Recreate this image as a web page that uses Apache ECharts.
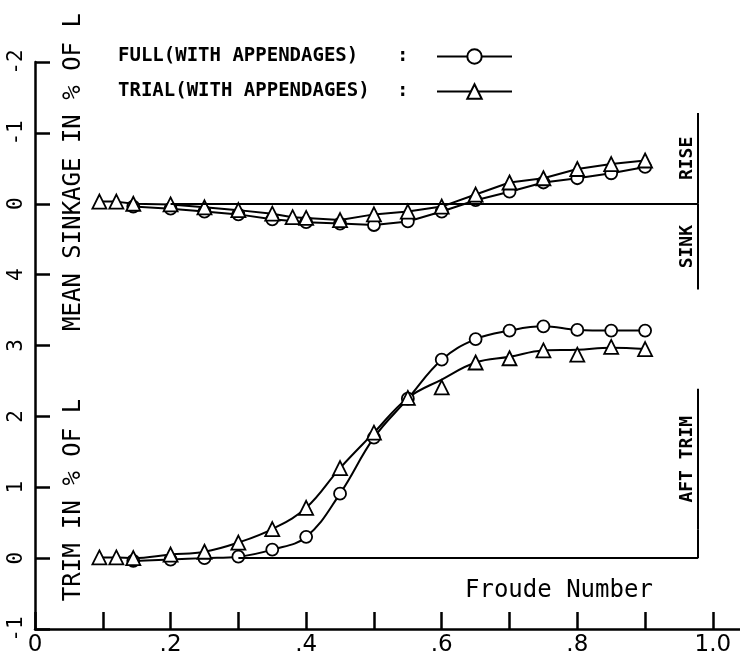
<!DOCTYPE html>
<html>
<head>
<meta charset="utf-8">
<script src="https://cdn.jsdelivr.net/npm/echarts@6/dist/echarts.min.js"></script>
<style>
  html, body { margin: 0; padding: 0; background: #fff; }
  #box { width: 740px; height: 657px; }
</style>
</head>
<body>
<div id="box"></div>
<script>
// Froude number of each run
var fnSinkFull  = [0.145, 0.2, 0.25, 0.3, 0.35, 0.4, 0.45, 0.5, 0.55, 0.6, 0.65, 0.7, 0.75, 0.8, 0.85, 0.9];
var fnSinkTrial = [0.095, 0.12, 0.145, 0.2, 0.25, 0.3, 0.35, 0.38, 0.4, 0.45, 0.5, 0.55, 0.6, 0.65, 0.7, 0.75, 0.8, 0.85, 0.9];
var fnTrimFull  = [0.145, 0.2, 0.25, 0.3, 0.35, 0.4, 0.45, 0.5, 0.55, 0.6, 0.65, 0.7, 0.75, 0.8, 0.85, 0.9];
var fnTrimTrial = [0.095, 0.12, 0.145, 0.2, 0.25, 0.3, 0.35, 0.4, 0.45, 0.5, 0.55, 0.6, 0.65, 0.7, 0.75, 0.8, 0.85, 0.9];

// mean sinkage in % of L (positive = sink, negative = rise)
var sinkFull  = [0.04, 0.07, 0.11, 0.15, 0.22, 0.26, 0.28, 0.30, 0.25, 0.11, -0.05, -0.17, -0.30, -0.36, -0.43, -0.52];
var sinkTrial = [-0.03, -0.03, 0.0, 0.01, 0.05, 0.09, 0.14, 0.19, 0.20, 0.23, 0.15, 0.11, 0.04, -0.13, -0.30, -0.36, -0.49, -0.56, -0.61];

// trim in % of L (aft trim positive)
var trimFull   = [-0.04, -0.02, 0.0, 0.02, 0.12, 0.30, 0.91, 1.70, 2.25, 2.80, 3.09, 3.21, 3.27, 3.22, 3.21, 3.21];
var trimTrial  = [0.01, 0.01, 0.0, 0.05, 0.09, 0.22, 0.41, 0.71, 1.27, 1.77, 2.26, 2.41, 2.76, 2.82, 2.93, 2.87, 2.98, 2.95];
// faired curve drawn through the trial points
var trimTrialFaired = [0.01, 0.01, 0.0, 0.05, 0.09, 0.22, 0.41, 0.71, 1.27, 1.77, 2.26, 2.52, 2.76, 2.84, 2.93, 2.94, 2.97, 2.95];

// ticks and tick labels
var xTicks = [0, 0.1, 0.2, 0.3, 0.4, 0.5, 0.6, 0.7, 0.8, 0.9, 1.0];
var xLabelVals = [0, 0.2, 0.4, 0.6, 0.8, 1.0];
var xTickLabels = ['0', '.2', '.4', '.6', '.8', '1.0'];
var yTickLabels = ['-1', '0', '1', '2', '3', '4', '0', '-1', '-2']; // from -1 up to 7

var nameFull = 'FULL(WITH APPENDAGES)';
var nameTrial = 'TRIAL(WITH APPENDAGES)';
var FONT = 'DejaVu Sans Mono';

function pairs(xs, ys) {
	var out = [];
	for (var i = 0; i < xs.length; i++) out.push([xs[i], ys[i]]);
	return out;
}

var myChart = echarts.init(document.getElementById('box'));

var lineBlack = { color: '#000', width: 2 };
var markBase = {
	silent: true,
	symbol: ['none', 'none'],
	lineStyle: { color: '#000', width: 2, type: 'solid' },
	label: { show: false }
};
var sideLabel = function (txt) {
	return {
		show: true, formatter: txt, position: 'insideMiddleTop', distance: 2,
		color: '#000', fontFamily: FONT, fontSize: 18, fontWeight: 'bold'
	};
};

var option = {
	backgroundColor: '#fff',
	animation: false,
	title: {
		text: 'Froude Number',
		left: 460, top: 574,
		textStyle: { fontFamily: FONT, fontSize: 24, fontWeight: 'normal', color: '#000' }
	},
	legend: {
		orient: 'vertical',
		left: 118, top: 47, padding: 0,
		align: 'right',
		itemWidth: 75, itemHeight: 18, itemGap: 16,
		selectedMode: false,
		data: [nameFull, nameTrial],
		formatter: function (n) {
			return '{a|' + n + '}{b|:}';
		},
		textStyle: {
			fontFamily: FONT, fontSize: 19, color: '#000', fontWeight: 'bold',
			rich: {
				a: { width: 279, align: 'left', fontFamily: FONT, fontSize: 19, fontWeight: 'bold', color: '#000' },
				b: { width: 35, align: 'left', fontFamily: FONT, fontSize: 19, fontWeight: 'bold', color: '#000' }
			}
		}
	},
	grid: { left: 35, right: 0, top: 62, bottom: 26 },
	xAxis: {
		type: 'value', min: 0, max: 1.04,
		axisLine: { onZero: false, lineStyle: { color: '#000', width: 2.5 } },
		axisTick: { inside: true, length: 17, customValues: xTicks, lineStyle: { color: '#000', width: 2.5 } },
		axisLabel: {
			margin: 5, color: '#000', fontFamily: 'DejaVu Sans', fontSize: 23,
			customValues: xLabelVals,
			formatter: function (v) {
				return xTickLabels[Math.round(v * 5)];
			}
		},
		splitLine: { show: false }
	},
	yAxis: [{
		type: 'value', min: -1, max: 7, interval: 1,
		axisLine: { lineStyle: { color: '#000', width: 2.5 } },
		axisTick: { inside: true, length: 15, lineStyle: { color: '#000', width: 2.5 } },
		axisLabel: {
			rotate: 90, margin: 8, color: '#000', fontFamily: FONT, fontSize: 21,
			formatter: function (v) { return yTickLabels[Math.round(v) + 1]; }
		},
		splitLine: { show: false }
	}, {
		// sinkage scale, sharing the same pixels: 0 sits at trim value 5
		type: 'value', min: -2, max: 6, inverse: true, show: false,
		splitLine: { show: false }
	}],
	series: [{
		name: nameFull, type: 'line', yAxisIndex: 1,
		data: pairs(fnSinkFull, sinkFull),
		symbol: 'circle', symbolSize: 12,
		itemStyle: { color: '#fff', borderColor: '#000', borderWidth: 1.8 },
		lineStyle: lineBlack,
		markLine: echarts.util.merge({
			data: [
				[{ coord: [0.2, 0] }, { coord: [0.978, 0] }],
				[{ coord: [0.978, 1.21], label: sideLabel('SINK') }, { coord: [0.978, 0] }],
				[{ coord: [0.978, 0], label: sideLabel('RISE') }, { coord: [0.978, -1.28] }]
			]
		}, markBase, true)
	}, {
		name: nameTrial, type: 'line', yAxisIndex: 1,
		data: pairs(fnSinkTrial, sinkTrial),
		symbol: 'triangle', symbolSize: 14,
		itemStyle: { color: '#fff', borderColor: '#000', borderWidth: 1.8 },
		lineStyle: lineBlack
	}, {
		name: nameFull, type: 'line', yAxisIndex: 0,
		data: pairs(fnTrimFull, trimFull),
		smooth: 0.4,
		symbol: 'circle', symbolSize: 12,
		itemStyle: { color: '#fff', borderColor: '#000', borderWidth: 1.8 },
		lineStyle: lineBlack,
		markLine: echarts.util.merge({
			data: [
				[{ coord: [0.3, 0] }, { coord: [0.978, 0] }],
				[{ coord: [0.978, 0] }, { coord: [0.978, 0.4] }],
				[{ coord: [0.978, 0.4], label: sideLabel('AFT TRIM') }, { coord: [0.978, 2.39] }]
			]
		}, markBase, true)
	}, {
		name: nameTrial, type: 'line', yAxisIndex: 0,
		data: pairs(fnTrimTrial, trimTrialFaired),
		smooth: 0.4, symbol: 'none',
		lineStyle: lineBlack
	}, {
		name: nameTrial, type: 'scatter', yAxisIndex: 0,
		data: pairs(fnTrimTrial, trimTrial),
		symbol: 'triangle', symbolSize: 14, z: 3,
		itemStyle: { color: '#fff', borderColor: '#000', borderWidth: 1.8, opacity: 1 }
	}]
};
myChart.setOption(option, true);

// rotated axis names
myChart.setOption({
	graphic: [{
		type: 'text', x: 74, y: 172, rotation: Math.PI / 2,
		style: { text: 'MEAN SINKAGE IN % OF L', fontFamily: FONT, fontSize: 24, fill: '#000', align: 'center', verticalAlign: 'middle' }
	}, {
		type: 'text', x: 74, y: 500, rotation: Math.PI / 2,
		style: { text: 'TRIM IN % OF L', fontFamily: FONT, fontSize: 24, fill: '#000', align: 'center', verticalAlign: 'middle' }
	}]
});
</script>
</body>
</html>
